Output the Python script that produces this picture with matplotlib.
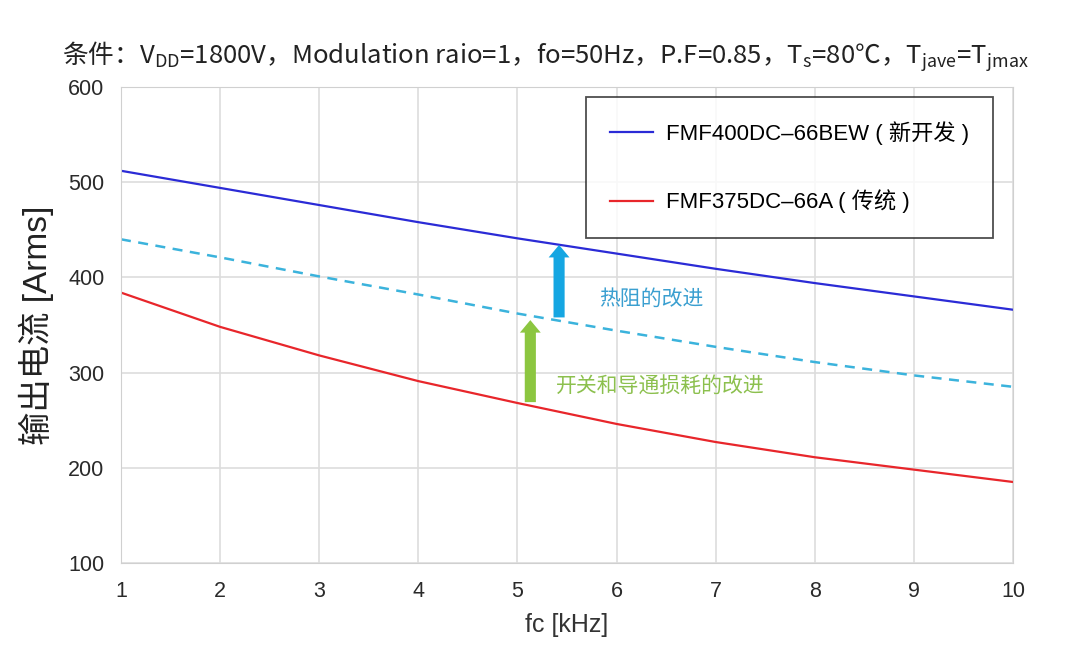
import matplotlib
matplotlib.use("Agg")
import matplotlib.pyplot as plt

# Latin glyphs in a Helvetica-like face, CJK falls through to Noto
plt.rcParams['font.family'] = ['Liberation Sans', 'Noto Sans CJK SC', 'DejaVu Sans']
# mathtext has no family fallback, so the title (which mixes CJK and subscripts) uses Noto
plt.rcParams['mathtext.fontset'] = 'custom'
plt.rcParams['mathtext.rm'] = 'Noto Sans CJK SC'
plt.rcParams['mathtext.it'] = 'Noto Sans CJK SC'

fc = [1, 2, 3, 4, 5, 6, 7, 8, 9, 10]
new_dev = [512, 494, 476, 458, 441, 425, 409, 394, 380, 366]      # FMF400DC-66BEW
mid_line = [440, 421, 401, 382, 362, 344, 327, 311, 297, 285]     # dashed
old_dev = [384, 348, 318, 291, 268, 246, 227, 211, 198, 185]      # FMF375DC-66A

# arrows: (x, y_from, y_to)
arrow_thermal = (5.42, 355, 437)
arrow_switch = (5.13, 266, 358)

fig = plt.figure(figsize=(10.8, 6.47), dpi=100)
ax = fig.add_axes([0.112, 0.130, 0.826, 0.7355])

ax.plot(fc, new_dev, color='#2b2bd6', lw=1.6, label='FMF400DC\u201266BEW ( 新开发 )')
ax.plot(fc, old_dev, color='#e8262b', lw=1.6, label='FMF375DC\u201266A ( 传统 )')
ax.plot(fc, mid_line, color='#3bb3dc', lw=1.8, ls=(0, (4, 3)))

x, y0, y1 = arrow_thermal
ax.annotate('', xy=(x, y1), xytext=(x, y0),
            arrowprops=dict(arrowstyle='simple,head_width=1.5,head_length=0.9,tail_width=0.8',
                            color='#15a6e2', lw=0))
x, y0, y1 = arrow_switch
ax.annotate('', xy=(x, y1), xytext=(x, y0),
            arrowprops=dict(arrowstyle='simple,head_width=1.5,head_length=0.9,tail_width=0.8',
                            color='#8cc640', lw=0))
ax.text(5.82, 377, '热阻的改进', color='#3a9fd0', fontsize=15, va='center')
ax.text(5.39, 285, '开关和导通损耗的改进', color='#8cc04e', fontsize=15, va='center')

ax.set_xlim(1, 10)
ax.set_ylim(100, 600)
ax.set_xticks(fc)
ax.set_yticks([100, 200, 300, 400, 500, 600])
ax.grid(color='#dddddd', lw=1.2)
ax.set_axisbelow(True)
for s in ax.spines.values():
    s.set_color('#d0d0d0')
ax.tick_params(length=0, labelsize=15.5, colors='#2a2a2a')
ax.tick_params(axis='x', pad=13)
ax.tick_params(axis='y', pad=12)

ax.set_xlabel('fc [kHz]', fontsize=18, color='#333333', labelpad=8)
ax.set_ylabel('输出电流 [Arms]', fontsize=24, color='#222222', labelpad=10)

leg = ax.legend(loc='upper right', bbox_to_anchor=(0.978, 0.979), fontsize=16,
                frameon=True, fancybox=False, handlelength=1.9, handletextpad=0.6,
                borderpad=1.1, labelspacing=2.0, borderaxespad=0)
leg.get_frame().set_edgecolor('#222222')
leg.get_frame().set_linewidth(1.3)

fig.text(0.505, 0.912,
         '条件：V$_{\\mathrm{DD}}$=1800V，Modulation raio=1，fo=50Hz，P.F=0.85，'
         'T$_{\\mathrm{s}}$=80℃，T$_{\\mathrm{jave}}$=T$_{\\mathrm{jmax}}$',
         ha='center', va='center', fontsize=18.5, color='#222222',
         family=['Noto Sans CJK SC', 'DejaVu Sans'])

fig.savefig('out.png', dpi=100, facecolor='white')
